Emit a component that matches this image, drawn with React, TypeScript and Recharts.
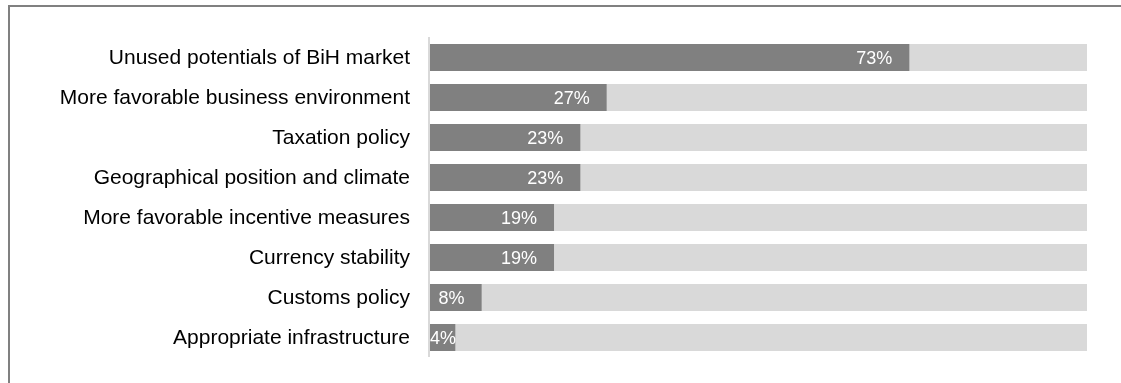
import { BarChart, Bar, XAxis, YAxis, LabelList } from 'recharts';

const categories = [
  'Unused potentials of BiH market',
  'More favorable business environment',
  'Taxation policy',
  'Geographical position and climate',
  'More favorable incentive measures',
  'Currency stability',
  'Customs policy',
  'Appropriate infrastructure',
];

const shares = [73, 27, 23, 23, 19, 19, 8, 4];

const data = categories.map((name, i) => ({ name, value: shares[i] }));

const FONT = '"Liberation Sans", Arial, sans-serif';

// rough Arial width for digits and the percent sign
function textWidth(text: string, size: number): number {
  let w = 0;
  for (const ch of text) w += ch === '%' ? 0.889 : 0.556;
  return w * size;
}

function EndLabel(props: any) {
  const { x, y, width, height, value } = props;
  const text = `${value}%`;
  const size = 18;
  const tw = textWidth(text, size);
  const right = Math.max(x + width - 17, x + 1 + tw);
  return (
    <text
      x={right}
      y={y + height / 2}
      dy="0.355em"
      textAnchor="end"
      fill="#ffffff"
      fontSize={size}
      fontFamily={FONT}
    >
      {text}
    </text>
  );
}

export default function App() {
  return (
    <div>
      <div
        style={{
          position: 'fixed',
          left: 8,
          top: 5,
          width: 1113,
          height: 378,
          borderTop: '2px solid #808080',
          borderLeft: '2px solid #808080',
          boxSizing: 'border-box',
        }}
      />
      <div style={{ position: 'fixed', left: 0, top: 0 }}>
        <BarChart
          width={1121}
          height={383}
          data={data}
          layout="vertical"
          margin={{ top: 37, right: 34, bottom: 26, left: 0 }}
        >
          <XAxis type="number" domain={[0, 100]} hide />
          <YAxis
            type="category"
            dataKey="name"
            width={429}
            tickLine={false}
            tickSize={0}
            tickMargin={19}
            axisLine={{ stroke: '#d9d9d9', strokeWidth: 2 }}
            tick={{ fill: '#000000', fontSize: 21, fontFamily: FONT }}
            interval={0}
          />
          <Bar
            dataKey="value"
            fill="#808080"
            barSize={27}
            background={{ fill: '#d9d9d9' }}
            isAnimationActive={false}
          >
            <LabelList dataKey="value" content={<EndLabel />} />
          </Bar>
        </BarChart>
      </div>
    </div>
  );
}
